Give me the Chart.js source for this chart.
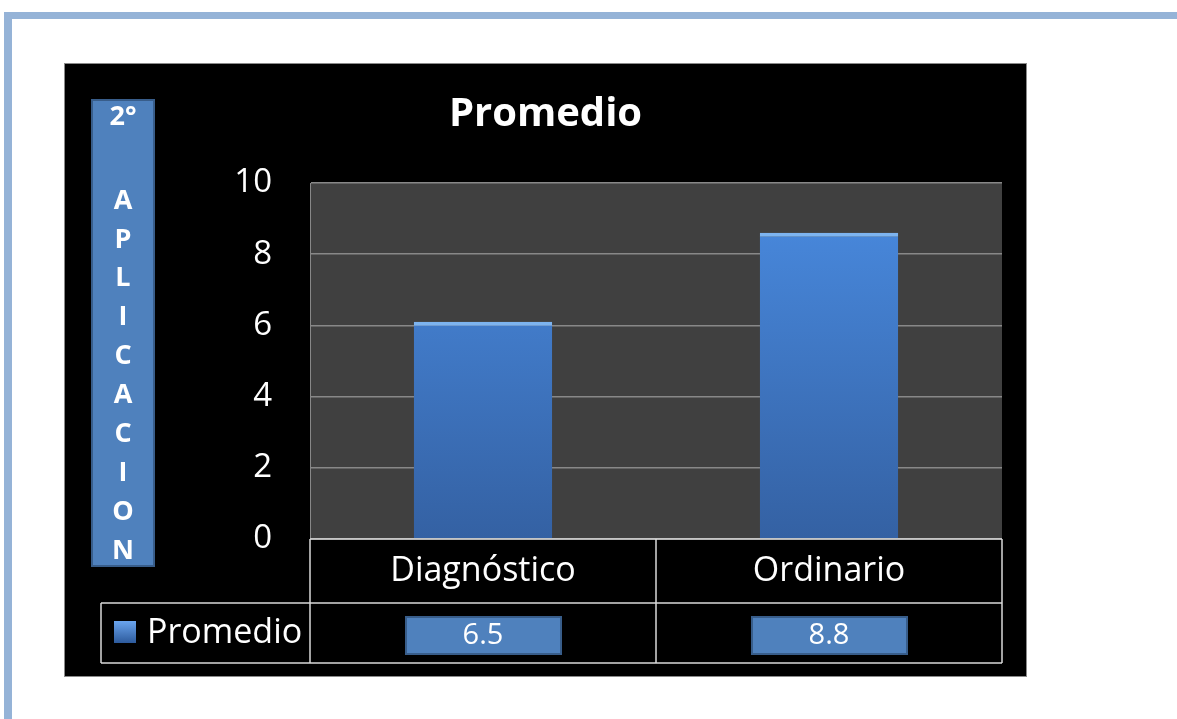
<!DOCTYPE html>
<html>
<head>
<meta charset="utf-8">
<script src="https://cdn.jsdelivr.net/npm/chart.js@4.4.0/dist/chart.umd.min.js"></script>
<style>
  html, body { margin: 0; padding: 0; background: #fff; }
  canvas { display: block; }
</style>
</head>
<body>
<canvas id="chart" width="1177" height="719"></canvas>
<script>
// datos del gráfico
const categories = ['Diagnóstico', 'Ordinario'];
const barValues = [6.1, 8.6];          // altura de las barras
const tableLabels = ['6.5', '8.8'];     // texto de la tabla de datos
const seriesName = 'Promedio';
const yTicks = [0, 2, 4, 6, 8, 10];
const sideLabelHead = '2°';
const sideLabelLetters = ['A', 'P', 'L', 'I', 'C', 'A', 'C', 'I', 'O', 'N'];

const FONT = '"Open Sans", "Noto Sans", sans-serif';

// fondo, marco negro, área gris, tabla y etiqueta lateral
const decoPlugin = {
    id: 'deco',
    beforeDraw(chart) {
        const c = chart.ctx;
        const a = chart.chartArea;
        c.save();
        c.fillStyle = '#ffffff';
        c.fillRect(0, 0, chart.width, chart.height);
        // borde azul de la página
        c.fillStyle = '#95b3d7';
        c.fillRect(4, 12, chart.width, 7);
        c.fillRect(4, 12, 8, chart.height);
        // caja negra
        c.fillStyle = '#000000';
        c.fillRect(64, 63, 963, 614);
        c.strokeStyle = '#8a8a8a';
        c.lineWidth = 1;
        c.strokeRect(64.5, 63.5, 962, 613);
        // fondo del área de trazado
        c.fillStyle = '#404040';
        c.fillRect(a.left, a.top, a.right - a.left, a.bottom - a.top);
        c.restore();
    },
    afterDraw(chart) {
        const c = chart.ctx;
        const a = chart.chartArea;
        const x = chart.scales.x;
        const half = (x.getPixelForValue(1) - x.getPixelForValue(0)) / 2;
        const rowMid = 603, rowBot = 663, legLeft = 101;
        c.save();
        // líneas de la tabla
        c.strokeStyle = '#d9d9d9';
        c.lineWidth = 1.5;
        c.beginPath();
        c.moveTo(a.left, a.bottom); c.lineTo(a.right, a.bottom);
        c.moveTo(legLeft, rowMid); c.lineTo(a.right, rowMid);
        c.moveTo(legLeft, rowBot); c.lineTo(a.right, rowBot);
        c.moveTo(legLeft, rowMid); c.lineTo(legLeft, rowBot);
        categories.forEach((cat, i) => {
            const px = x.getPixelForValue(i);
            c.moveTo(px - half, a.bottom); c.lineTo(px - half, rowBot);
        });
        c.moveTo(a.right, a.bottom); c.lineTo(a.right, rowBot);
        c.stroke();

        // leyenda
        const g = c.createLinearGradient(0, 621, 0, 643);
        g.addColorStop(0, '#6aa5ee');
        g.addColorStop(1, '#2d5a9c');
        c.fillStyle = g;
        c.fillRect(114, 621, 22, 22);
        c.fillStyle = '#ffffff';
        c.font = '34px ' + FONT;
        c.textAlign = 'left';
        c.textBaseline = 'middle';
        c.fillText(seriesName, 147, 633);

        // cajas de valores
        c.font = '29px ' + FONT;
        c.textAlign = 'center';
        tableLabels.forEach((t, i) => {
            const px = x.getPixelForValue(i);
            c.fillStyle = '#4f81bd';
            c.fillRect(px - 77, 617, 155, 37);
            c.strokeStyle = '#385d8a';
            c.lineWidth = 2;
            c.strokeRect(px - 77, 617, 155, 37);
            c.fillStyle = '#ffffff';
            c.fillText(t, px, 636);
        });

        // etiqueta vertical
        c.fillStyle = '#4f81bd';
        c.fillRect(92, 100, 62, 466);
        c.strokeStyle = '#385d8a';
        c.lineWidth = 2;
        c.strokeRect(92, 100, 62, 466);
        c.fillStyle = '#ffffff';
        c.font = 'bold 27px ' + FONT;
        c.fillText(sideLabelHead, 123, 117);
        sideLabelLetters.forEach((l, i) => {
            c.fillText(l, 123, 201 + i * 38.9);
        });
        c.restore();
    }
};

function barGradient(ctx) {
    const area = ctx.chart.chartArea;
    if (!area) return '#4079c8';
    const g = ctx.chart.ctx.createLinearGradient(0, area.top, 0, area.bottom);
    g.addColorStop(0, '#4a8ce2');
    g.addColorStop(1, '#3461a3');
    return g;
}

new Chart(document.getElementById('chart').getContext('2d'), {
    type: 'bar',
    data: {
        labels: categories,
        datasets: [{
            label: seriesName,
            data: barValues,
            backgroundColor: barGradient,
            borderColor: '#7db4f0',
            borderWidth: { top: 4, left: 0, right: 0, bottom: 0 },
            borderSkipped: false,
            barPercentage: 0.4,
            categoryPercentage: 1
        }]
    },
    options: {
        responsive: false,
        animation: false,
        layout: { padding: { left: 64, right: 150, top: 63, bottom: 0 } },
        plugins: {
            legend: { display: false },
            tooltip: { enabled: false },
            title: {
                display: true,
                text: 'Promedio',
                color: '#ffffff',
                font: { family: FONT, size: 40, weight: 'bold' },
                padding: { top: 28, bottom: 44 }
            }
        },
        scales: {
            x: {
                afterFit(scale) { scale.height = 180; },
                grid: { display: false, drawTicks: false },
                border: { display: false },
                ticks: {
                    color: '#ffffff',
                    padding: 12,
                    font: { family: FONT, size: 34 }
                }
            },
            y: {
                min: 0,
                max: 10,
                afterFit(scale) { scale.width = 246; },
                afterBuildTicks(scale) { scale.ticks = yTicks.map(v => ({ value: v })); },
                grid: { color: '#888888', lineWidth: 1.5, drawTicks: false },
                border: { display: true, color: '#888888' },
                ticks: {
                    color: '#ffffff',
                    padding: 38,
                    font: { family: FONT, size: 33 }
                }
            },
            // margen derecho dentro de la caja negra
            yRight: {
                position: 'right',
                afterFit(scale) { scale.width = 25; },
                grid: { display: false, drawTicks: false },
                border: { display: false },
                ticks: { display: false }
            }
        }
    },
    plugins: [decoPlugin]
});
</script>
</body>
</html>
